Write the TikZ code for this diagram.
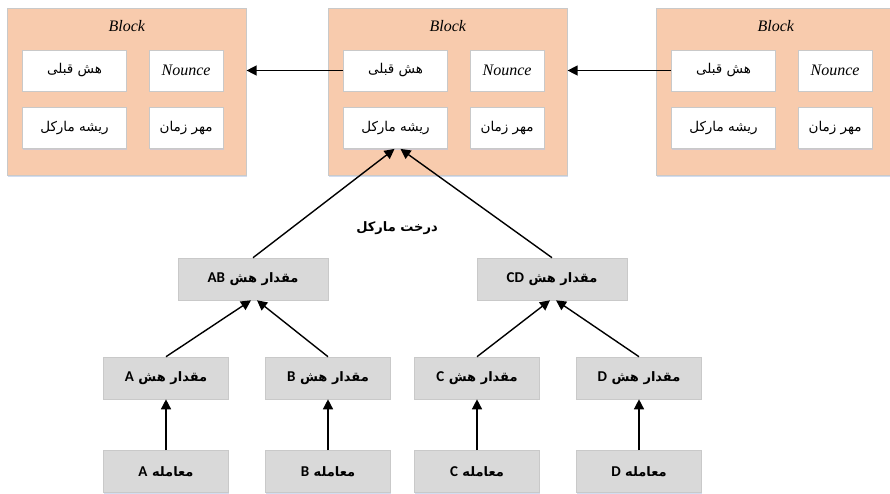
\documentclass[tikz,border=0pt]{standalone}
\usepackage{fontspec}
\setmainfont{Liberation Serif}
\newfontfamily\arabicfont[Script=Arabic]{DejaVu Sans}
\newfontfamily\latinsans{Carlito}
\TeXXeTstate=1
\usetikzlibrary{positioning,shadows,arrows.meta}

\definecolor{blockfill}{HTML}{F8CBAD}
\definecolor{boxgray}{HTML}{D9D9D9}
\definecolor{edgegray}{HTML}{C9C9C9}
\definecolor{shadowblue}{HTML}{B4C7E7}

\newcommand{\fa}[1]{{\arabicfont\beginR #1\endR}}
\newcommand{\fab}[2]{{\arabicfont\bfseries\beginR #1 \beginL{\latinsans\bfseries\fontsize{15}{17}\selectfont #2}\endL\endR}}

\begin{document}
\begin{tikzpicture}
% Style
[
    x=1pt, y=-1pt, line width=1.4pt, >={Triangle[length=10pt,width=10pt]},
    soft/.style={drop shadow={shadow xshift=.6pt, shadow yshift=-1.4pt, fill=shadowblue, opacity=.6}},
    block/.style={
        draw=edgegray, line width=.6pt, fill=blockfill, soft, anchor=north west,
        minimum width=239, minimum height=167
    },
    title/.style={font=\itshape\fontsize{16}{18}\selectfont},
    field/.style={
        draw=edgegray, line width=.6pt, fill=white, soft,
        minimum width=#1, minimum height=41, inner sep=0pt,
        font=\fontsize{13.5}{15}\selectfont
    },
    hashbox/.style={
        draw=edgegray, line width=.6pt, fill=boxgray, soft,
        minimum width=#1, minimum height=42, inner sep=0pt,
        font=\fontsize{13}{15}\selectfont
    }
]
\useasboundingbox (0,0) rectangle (890,493);

%=================================== Blocks ===================================
\foreach \b/\x in {L/7, M/328, R/656} {
    \node[block] (blk-\b) at (\x,8) {};
    \node[title] (blk-\b-title) at ([yshift=-18]blk-\b.north) {Block};
    \node[field=104] (blk-\b-prev) at ([xshift=67.5, yshift=-62.5]blk-\b.north west) {\fa{هش قبلی}};
    \node[field=74, right=22pt of blk-\b-prev] (blk-\b-nonce) {\itshape\fontsize{16}{18}\selectfont Nounce};
    \node[field=104, below=16pt of blk-\b-prev] (blk-\b-root) {\fa{ریشه مارکل}};
    \node[field=74, below=16pt of blk-\b-nonce] (blk-\b-time) {\fa{مهر زمان}};
}
\draw[->] (blk-M-prev.west) -- (blk-M-prev.west -| blk-L.east);
\draw[->] (blk-R-prev.west) -- (blk-R-prev.west -| blk-M.east);

%=================================== Tree ===================================
\node[font=\bfseries\fontsize{13}{15}\selectfont] (tree-label) at (397,228) {\fa{درخت مارکل}};

\node[hashbox=150] (hash-AB) at (253,279) {\fab{مقدار هش}{AB}};
\node[hashbox=150] (hash-CD) at (552,279) {\fab{مقدار هش}{CD}};

\foreach \t/\x in {A/166, B/328, C/477, D/639} {
    \node[hashbox=125] (hash-\t) at (\x,378) {\fab{مقدار هش}{\t}};
    \node[hashbox=125] (tx-\t) at (\x,471.5) {\fab{معامله}{\t}};
    \draw[->] (tx-\t) -- (hash-\t);
}

\draw[->] (hash-A.north) -- ([xshift=-2]hash-AB.south);
\draw[->] (hash-B.north) -- ([xshift=4]hash-AB.south);
\draw[->] (hash-C.north) -- ([xshift=-2]hash-CD.south);
\draw[->] (hash-D.north) -- ([xshift=4]hash-CD.south);

\draw[->] (hash-AB.north) -- ([xshift=-1]blk-M-root.south);
\draw[->] (hash-CD.north) -- ([xshift=5]blk-M-root.south);
%==================================== END ====================================
\end{tikzpicture}
\end{document}
